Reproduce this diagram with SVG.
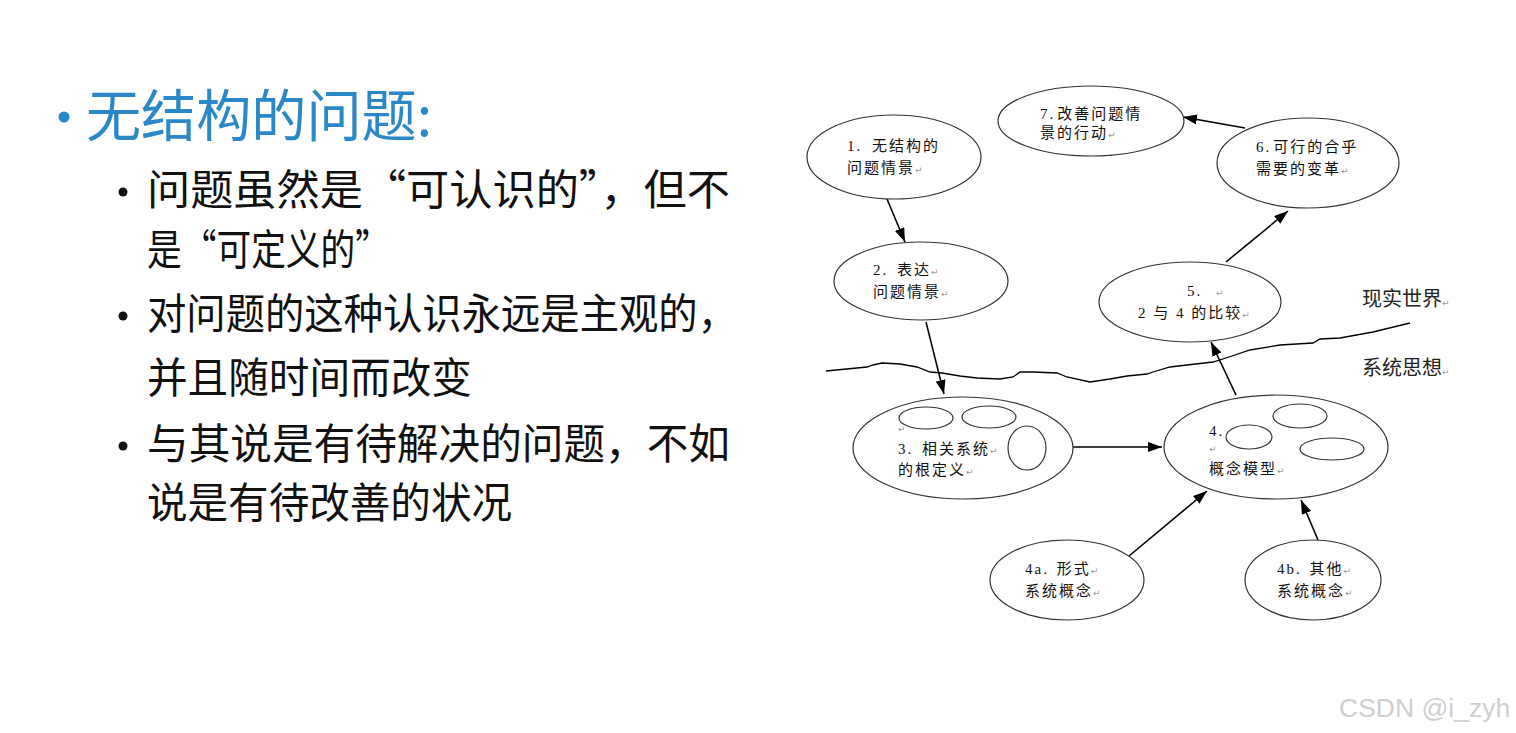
<svg xmlns="http://www.w3.org/2000/svg" width="1516" height="733" viewBox="0 0 1516 733">
<defs>
<marker id="ah" markerWidth="14" markerHeight="10" refX="14" refY="5" orient="auto" markerUnits="userSpaceOnUse"><path d="M0,0 L14,5 L0,10 z" fill="#000"/></marker>
<style>
.bg{fill:#fff}
.el{fill:#fff;stroke:#333;stroke-width:1.2}
.sm{fill:none;stroke:#333;stroke-width:1.2}
.ln{stroke:#000;stroke-width:1.6;fill:none}
.t{font-family:"Liberation Serif","Noto Sans CJK SC",serif;font-size:15px;fill:#111;letter-spacing:2px}
.rm{font-family:"DejaVu Sans",sans-serif;font-size:9px;fill:#999;letter-spacing:0}
.big{font-family:"Noto Sans CJK SC",sans-serif;font-size:20px;fill:#222}
.title{font-family:"Noto Sans CJK SC",sans-serif;font-size:56px;fill:#2B88C8}
.body{font-family:"Noto Sans CJK SC",sans-serif;font-size:42px;fill:#111}
.wm{font-family:"Liberation Sans",sans-serif;font-size:26.5px;fill:#cfcfcf}
</style>
</defs>
<rect class="bg" x="0" y="0" width="1516" height="733"/>

<g id="left-text">
<circle cx="64" cy="117" r="5.5" fill="#2B88C8"/>
<text class="title" x="86" y="136" textLength="346" lengthAdjust="spacingAndGlyphs">无结构的问题:</text>
<circle cx="123" cy="192" r="4.5" fill="#111"/>
<text class="body" x="147" y="205" textLength="583" lengthAdjust="spacingAndGlyphs">问题虽然是“可认识的”，但不</text>
<text class="body" x="147" y="265" textLength="243" lengthAdjust="spacingAndGlyphs">是“可定义的”</text>
<circle cx="123" cy="316" r="4.5" fill="#111"/>
<text class="body" x="147" y="329" textLength="590" lengthAdjust="spacingAndGlyphs">对问题的这种认识永远是主观的，</text>
<text class="body" x="147" y="393" textLength="325" lengthAdjust="spacingAndGlyphs">并且随时间而改变</text>
<circle cx="123" cy="446" r="4.5" fill="#111"/>
<text class="body" x="147" y="459" textLength="583" lengthAdjust="spacingAndGlyphs">与其说是有待解决的问题，不如</text>
<text class="body" x="147" y="518" textLength="365" lengthAdjust="spacingAndGlyphs">说是有待改善的状况</text>
</g>

<g id="boundary">
<path class="ln" style="stroke-width:1.3" d="M826,371 L867,367 L873,365 L882,363 L900,364 L917,367 L930,372 L942,373 L960,376 L977,378 L1000,379 L1013,377 L1020,372 L1033,372 L1057,373 L1067,377 L1090,382 L1110,379 L1127,376 L1147,374 L1153,372 L1170,367 L1187,365 L1213,362 L1232,356 L1250,350 L1280,345 L1313,343 L1320,339 L1340,338 L1373,332 L1410,323"/>
<text class="big" x="1362" y="306">现实世界<tspan class="rm">↵</tspan></text>
<text class="big" x="1362" y="375">系统思想<tspan class="rm">↵</tspan></text>
</g>

<g id="connectors">
<line class="ln" x1="887" y1="199" x2="905" y2="242" marker-end="url(#ah)"/>
<line class="ln" x1="926" y1="322" x2="944" y2="394" marker-end="url(#ah)"/>
<line class="ln" x1="1073" y1="447" x2="1162" y2="447" marker-end="url(#ah)"/>
<line class="ln" x1="1129" y1="556" x2="1207" y2="491" marker-end="url(#ah)"/>
<line class="ln" x1="1318" y1="540" x2="1301" y2="500" marker-end="url(#ah)"/>
<line class="ln" x1="1236" y1="395" x2="1211" y2="342" marker-end="url(#ah)"/>
<line class="ln" x1="1226" y1="262" x2="1288" y2="211" marker-end="url(#ah)"/>
<line class="ln" x1="1245" y1="128" x2="1183" y2="117" marker-end="url(#ah)"/>
</g>

<g id="n1">
<ellipse class="el" cx="894" cy="157" rx="87" ry="42"/>
<text class="t" x="847" y="151">1. <tspan dx="4">无结构的</tspan></text>
<text class="t" x="847" y="173">问题情景<tspan class="rm">↵</tspan></text>
</g>
<g id="n7">
<ellipse class="el" cx="1091" cy="121" rx="93" ry="35"/>
<text class="t" x="1040" y="119">7.<tspan dx="2">改善问题情</tspan></text>
<text class="t" x="1040" y="138">景的行动<tspan class="rm">↵</tspan></text>
</g>
<g id="n6">
<ellipse class="el" cx="1308" cy="163" rx="91" ry="45"/>
<text class="t" x="1256" y="152">6.<tspan dx="2">可行的合乎</tspan></text>
<text class="t" x="1256" y="174">需要的变革<tspan class="rm">↵</tspan></text>
</g>
<g id="n2">
<ellipse class="el" cx="921" cy="281" rx="87" ry="39"/>
<text class="t" x="873" y="275">2. <tspan dx="3">表达</tspan><tspan class="rm">↵</tspan></text>
<text class="t" x="873" y="297">问题情景<tspan class="rm">↵</tspan></text>
</g>
<g id="n5">
<ellipse class="el" cx="1190" cy="302" rx="91" ry="40"/>
<text class="t" x="1187" y="296">5.  <tspan class="rm" dx="8">↵</tspan></text>
<text class="t" x="1138" y="318">2 与 4 的比较<tspan class="rm">↵</tspan></text>
</g>
<g id="n3">
<ellipse class="el" cx="963" cy="448" rx="110" ry="51"/>
<ellipse class="sm" cx="926" cy="418" rx="27" ry="11"/>
<ellipse class="sm" cx="989" cy="417" rx="27" ry="11"/>
<ellipse class="sm" cx="1027" cy="448" rx="19" ry="22"/>
<text class="rm" x="898" y="432">↵</text>
<text class="t" x="898" y="454">3. <tspan dx="3">相关系统</tspan><tspan class="rm">↵</tspan></text>
<text class="t" x="898" y="475">的根定义<tspan class="rm">↵</tspan></text>
</g>
<g id="n4">
<ellipse class="el" cx="1276" cy="447" rx="112" ry="52"/>
<ellipse class="sm" cx="1249" cy="437" rx="23" ry="12"/>
<ellipse class="sm" cx="1300" cy="416" rx="27" ry="12"/>
<ellipse class="sm" cx="1332" cy="449" rx="32" ry="11"/>
<text class="t" x="1209" y="436">4.</text>
<text class="rm" x="1209" y="452">↵</text>
<text class="t" x="1209" y="474">概念模型<tspan class="rm">↵</tspan></text>
</g>
<g id="n4a">
<ellipse class="el" cx="1067" cy="580" rx="77" ry="40"/>
<text class="t" x="1025" y="574">4a. <tspan dx="2">形式</tspan><tspan class="rm">↵</tspan></text>
<text class="t" x="1025" y="596">系统概念<tspan class="rm">↵</tspan></text>
</g>
<g id="n4b">
<ellipse class="el" cx="1313" cy="580" rx="68" ry="40"/>
<text class="t" x="1277" y="574">4b. <tspan dx="2">其他</tspan><tspan class="rm">↵</tspan></text>
<text class="t" x="1277" y="596">系统概念<tspan class="rm">↵</tspan></text>
</g>

<text class="wm" x="1339" y="717">CSDN @i_zyh</text>
</svg>
